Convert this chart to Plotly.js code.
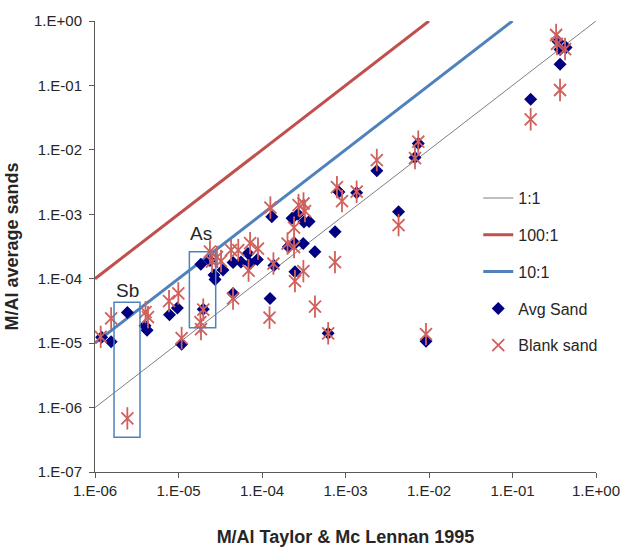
<!DOCTYPE html>
<html>
<head>
<meta charset="utf-8">
<script src="https://cdn.plot.ly/plotly-3.0.1.min.js"></script>
<style>html,body{margin:0;padding:0;background:#fff;}#chart{width:622px;height:547px;}</style>
</head>
<body>
<div id="chart"></div>
<script>
// Reference ratio lines
const ref11X = [1e-6, 1];     const ref11Y = [1e-6, 1];
const ref100X = [1e-6, 1e-2]; const ref100Y = [1e-4, 1];
const ref10X = [1e-6, 1e-1];  const ref10Y = [1e-5, 1];

// Avg Sand (x: Taylor & McLennan 1995, y: average sands)
const avgX = [1.2e-6, 1.56e-6, 2.44e-6, 3.97e-6, 4.2e-6, 7.8e-6, 9.7e-6, 1.09e-5,
  1.85e-5, 1.98e-5, 2.38e-5, 2.66e-5, 2.74e-5, 3.41e-5, 4.5e-5, 5.6e-5, 6.8e-5, 7.2e-5, 8.8e-5,
  4.5e-5, 1.25e-4, 1.39e-4, 2.07e-4, 2.48e-4, 3.12e-4, 2.48e-4, 4.3e-4, 6.2e-4, 7.5e-4,
  1.31e-4, 2.29e-4, 2.7e-4, 3.18e-4, 3.66e-4, 8.35e-4, 1.36e-3, 2.37e-3, 4.32e-3, 6.8e-3, 7.44e-3,
  9.2e-3, 0.165, 0.351, 0.371, 0.438, 0.371];
const avgY = [1.23e-5, 1.05e-5, 3.0e-5, 1.86e-5, 1.59e-5, 2.77e-5, 3.5e-5, 9.6e-6,
  1.67e-4, 3.37e-5, 1.91e-4, 1.14e-4, 9.7e-5, 1.36e-4, 1.78e-4, 1.81e-4, 2.47e-4, 1.73e-4, 1.98e-4,
  5.9e-5, 4.94e-5, 1.6e-4, 3.13e-4, 3.53e-4, 3.53e-4, 1.28e-4, 2.62e-4, 1.42e-5, 5.35e-4,
  9.15e-4, 8.7e-4, 1.0e-3, 7.57e-4, 7.7e-4, 2.21e-3, 2.16e-3, 4.74e-3, 1.09e-3, 7.6e-3, 1.25e-2,
  1.07e-5, 0.0608, 0.48, 0.361, 0.388, 0.213];

// Blank sand
const blankX = [1.17e-6, 1.56e-6, 2.44e-6, 4.03e-6, 4.31e-6, 7.7e-6, 9.95e-6, 1.09e-5,
  1.98e-5, 1.83e-5, 1.86e-5, 2.38e-5, 2.52e-5, 2.89e-5, 3.23e-5, 4.26e-5, 5.2e-5, 7.2e-5, 8.95e-5,
  6.9e-5, 4.5e-5, 1.23e-4, 1.37e-4, 2.02e-4, 2.42e-4, 2.48e-4, 3.13e-4, 4.31e-4, 6.2e-4, 7.48e-4,
  1.26e-4, 2.74e-4, 3.14e-4, 3.27e-4, 2.42e-4, 7.9e-4, 9.08e-4, 1.36e-3, 2.37e-3, 4.32e-3,
  6.8e-3, 7.44e-3, 9.2e-3, 0.165, 0.333, 0.426, 0.371, 0.341];
const blankY = [1.25e-5, 2.42e-5, 6.8e-7, 3.03e-5, 2.53e-5, 4.49e-5, 5.91e-5, 1.2e-5,
  3.31e-5, 2.12e-5, 1.65e-5, 2.64e-4, 1.84e-4, 2.17e-4, 1.88e-4, 2.78e-4, 2.78e-4, 3.57e-4, 2.93e-4,
  1.34e-4, 4.94e-5, 2.49e-5, 1.72e-4, 3.51e-4, 3.1e-4, 9.18e-5, 1.31e-4, 3.69e-5, 1.42e-5, 1.81e-4,
  1.27e-3, 1.39e-3, 1.47e-3, 1.12e-3, 6.2e-4, 2.64e-3, 1.6e-3, 2.24e-3, 6.95e-3, 6.8e-4,
  7.46e-3, 1.34e-2, 1.38e-5, 0.0298, 0.606, 0.367, 0.0849, 0.44];

// Highlight boxes and labels
const boxLabels = ["Sb", "As"];
const boxX0 = [1.69e-6, 1.35e-5];
const boxX1 = [3.46e-6, 2.79e-5];
const boxY0 = [3.47e-7, 1.73e-5];
const boxY1 = [4.33e-5, 2.62e-4];
const labelX = [2.44e-6, 1.86e-5];
const labelY = [6.6e-5, 5.1e-4];

const tickVals = [1e-6, 1e-5, 1e-4, 1e-3, 1e-2, 1e-1, 1];
const xTickText = ["1.E-06", "1.E-05", "1.E-04", "1.E-03", "1.E-02", "1.E-01", "1.E+00"];
const yTickValsAll = [1e-7, 1e-6, 1e-5, 1e-4, 1e-3, 1e-2, 1e-1, 1];
const yTickText = ["1.E-07", "1.E-06", "1.E-05", "1.E-04", "1.E-03", "1.E-02", "1.E-01", "1.E+00"];

const FONT = "Liberation Sans, Arial, sans-serif";
const starColor = "#D0605B";

const traces = [
  {x: ref11X, y: ref11Y, mode: "lines", name: "1:1", legendgroup: "a",
   line: {color: "#7F7F7F", width: 1}},
  {x: ref100X, y: ref100Y, mode: "lines", name: "100:1", legendgroup: "b",
   line: {color: "#C0504D", width: 3}},
  {x: ref10X, y: ref10Y, mode: "lines", name: "10:1", legendgroup: "c",
   line: {color: "#4F81BD", width: 3}},
  {x: avgX, y: avgY, mode: "markers", name: "Avg Sand", legendgroup: "d",
   marker: {symbol: "diamond", size: 10, color: "#000080"}},
  {x: blankX, y: blankY, mode: "markers", name: "Blank sand", legendgroup: "e",
   marker: {symbol: "x-thin-open", size: 12, color: starColor, line: {color: starColor, width: 1.8}}},
  {x: blankX, y: blankY, mode: "markers", name: "Blank sand", legendgroup: "e", showlegend: false,
   marker: {symbol: "line-ns-open", size: 16, color: starColor, line: {color: starColor, width: 1.8}}}
];

const shapes = boxLabels.map((_, i) => ({
  type: "rect", xref: "x", yref: "y",
  x0: boxX0[i], x1: boxX1[i], y0: boxY0[i], y1: boxY1[i],
  line: {color: "#4F81BD", width: 1.5}, fillcolor: "rgba(0,0,0,0)", layer: "above"
}));

const annotations = boxLabels.map((t, i) => ({
  x: Math.log10(labelX[i]), y: Math.log10(labelY[i]), xref: "x", yref: "y",
  text: t, showarrow: false, font: {family: FONT, size: 19, color: "#262626"}
}));

const layout = {
  width: 622, height: 547,
  margin: {l: 95, r: 26, t: 21, b: 75},
  paper_bgcolor: "#fff", plot_bgcolor: "#fff",
  font: {family: FONT, color: "#262626"},
  showlegend: true,
  legend: {x: 0.765, y: 0.645, xanchor: "left", yanchor: "top",
    font: {family: FONT, size: 16, color: "#262626"},
    bgcolor: "rgba(255,255,255,0)", traceorder: "grouped", tracegroupgap: 13},
  xaxis: {type: "log", range: [-6, 0], tickvals: tickVals, ticktext: xTickText,
    showgrid: false, zeroline: false, showline: true, linecolor: "#595959", linewidth: 1,
    ticks: "outside", ticklen: 5, tickcolor: "#595959",
    tickfont: {family: FONT, size: 15, color: "#262626"},
    title: {text: "M/Al Taylor & Mc Lennan 1995", font: {family: FONT, size: 18, color: "#262626", weight: "bold"}, standoff: 33}},
  yaxis: {type: "log", range: [-7, 0], tickvals: yTickValsAll, ticktext: yTickText,
    showgrid: false, zeroline: false, showline: true, linecolor: "#595959", linewidth: 1,
    ticks: "outside", ticklen: 5, tickcolor: "#595959", ticklabelstandoff: 4,
    tickfont: {family: FONT, size: 15, color: "#262626"},
    title: {text: "M/Al average sands", font: {family: FONT, size: 18, color: "#262626", weight: "bold"}, standoff: 10}},
  shapes: shapes,
  annotations: annotations
};

Plotly.newPlot("chart", traces, layout, {displayModeBar: false, staticPlot: true});
</script>
</body>
</html>
